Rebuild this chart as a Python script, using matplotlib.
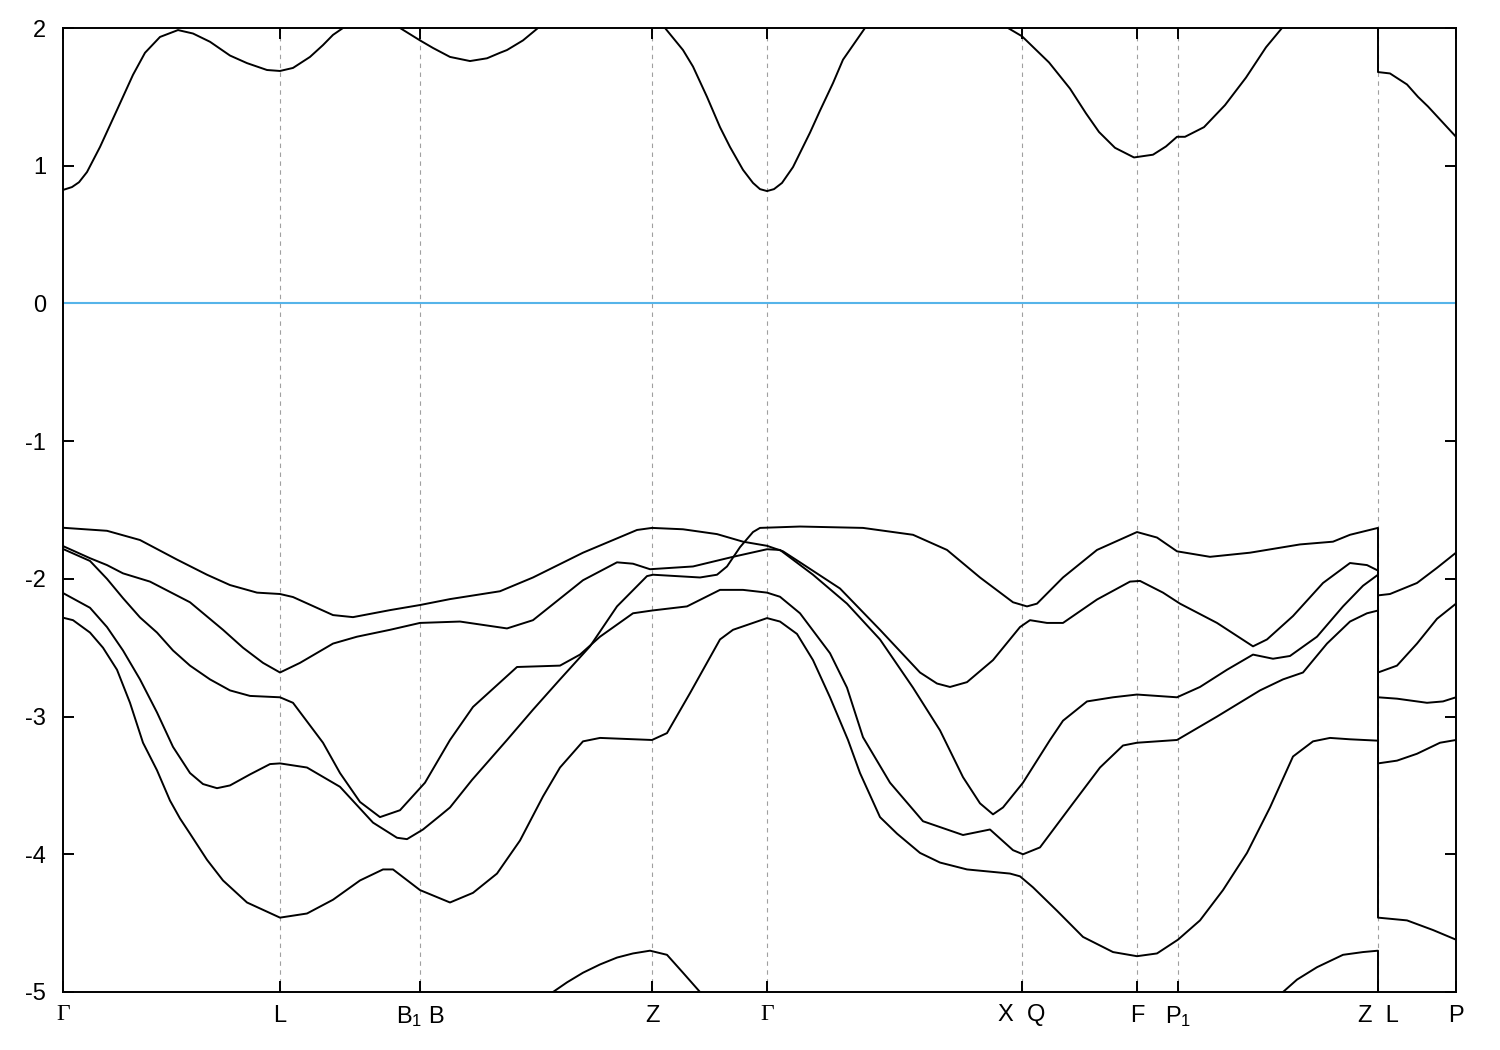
import numpy as np
import matplotlib
matplotlib.use('Agg')
from matplotlib import pyplot as plt

plt.rcParams['font.family'] = ['Liberation Sans', 'DejaVu Sans']
plt.rcParams['mathtext.fontset'] = 'custom'
plt.rcParams['mathtext.rm'] = 'Liberation Sans'
plt.rcParams['mathtext.it'] = 'Liberation Sans'
plt.rcParams['axes.unicode_minus'] = False

nan = np.nan

# high symmetry points along the path
k_ticks = [0.0, 2.17, 3.57, 5.89, 7.04, 9.59, 10.74, 11.15, 13.15, 13.93]
k_labels = ['Γ', 'L', 'B$_1$ B', 'Z', 'Γ', 'X  Q', 'F', 'P$_1$', 'Z  L', 'P']

# conduction band (nan = outside the window)
k_cb = [0, 0.09, 0.16, 0.24, 0.37, 0.54, 0.70, 0.82, 0.97, 1.15, 1.30, 1.47, 1.67, 1.84, 2.04, 2.17, 2.30, 2.47, 2.60, 2.70, 2.80, nan,
        3.37, 3.57, 3.70, 3.87, 4.07, 4.24, 4.37, 4.44, 4.60, 4.75, nan,
        6.02, 6.20, 6.30, 6.44, 6.57, 6.67, 6.80, 6.90, 6.97, 7.04, 7.11, 7.19, 7.30, 7.47, 7.57, 7.70, 7.80, 8.02, nan,
        9.45, 9.59, 9.86, 10.07, 10.23, 10.36, 10.52, 10.71, 10.90, 11.03, 11.14, 11.22, 11.41, 11.62, 11.83, 12.03, 12.19, nan,
        13.15, 13.15, 13.27, 13.44, 13.55, 13.65, 13.93]
e_cb = [0.824, 0.845, 0.88, 0.954, 1.136, 1.405, 1.66, 1.82, 1.935, 1.985, 1.96, 1.90, 1.80, 1.745, 1.695, 1.688, 1.71, 1.79, 1.876, 1.95, 2.0, nan,
        2.0, 1.91, 1.855, 1.79, 1.76, 1.78, 1.82, 1.84, 1.91, 2.0, nan,
        2.0, 1.84, 1.72, 1.50, 1.28, 1.136, 0.97, 0.875, 0.83, 0.816, 0.83, 0.875, 0.99, 1.24, 1.40, 1.60, 1.77, 2.0, nan,
        2.0, 1.94, 1.75, 1.56, 1.38, 1.245, 1.13, 1.06, 1.08, 1.14, 1.21, 1.21, 1.28, 1.44, 1.64, 1.86, 2.0, nan,
        2.0, 1.68, 1.67, 1.59, 1.50, 1.43, 1.21]

# valence bands
k_a = [0, 0.44, 0.77, 1.14, 1.44, 1.67, 1.94, 2.17, 2.30, 2.70, 2.90, 3.27, 3.57, 3.87, 4.37, 4.70, 5.20, 5.74, 5.89,
       6.20, 6.54, 6.80, 7.04, 7.20, 7.37, 7.77, 8.17, 8.57, 8.74, 8.87, 9.04, 9.30, 9.57, 9.67, 9.84, 10.00, 10.34,
       10.67, 10.77, 11.00, 11.17, 11.54, 11.90, 12.04, 12.30, 12.60, 12.87, 13.04, 13.15, 13.15, 13.34, 13.54, 13.74, 13.93]
e_a = [-1.629, -1.651, -1.718, -1.86, -1.97, -2.045, -2.10, -2.11, -2.132, -2.263, -2.278, -2.227, -2.19, -2.147, -2.09,
       -1.99, -1.81, -1.645, -1.63, -1.64, -1.675, -1.73, -1.76, -1.80, -1.88, -2.07, -2.37, -2.68, -2.76, -2.785, -2.75,
       -2.59, -2.35, -2.30, -2.32, -2.32, -2.15, -2.02, -2.015, -2.10, -2.18, -2.32, -2.49, -2.44, -2.27, -2.03, -1.885,
       -1.90, -1.94, -2.68, -2.63, -2.47, -2.29, -2.18]

k_b = [0, 0.27, 0.44, 0.60, 0.87, 1.27, 1.60, 1.80, 2.00, 2.17, 2.37, 2.70, 2.94, 3.27, 3.57, 3.97, 4.44, 4.70, 5.20,
       5.54, 5.70, 5.87, 6.30, 6.70, 7.04, 7.17, 7.50, 7.84, 8.17, 8.50, 8.77, 9.00, 9.17, 9.30, 9.40, 9.60, 9.87, 10.00,
       10.24, 10.50, 10.74, 10.94, 11.14, 11.37, 11.64, 11.90, 12.10, 12.27, 12.54, 12.80, 13.00, 13.15, 13.15, 13.34,
       13.64, 13.80, 13.93]
e_b = [-1.762, -1.85, -1.90, -1.96, -2.02, -2.17, -2.37, -2.50, -2.61, -2.68, -2.61, -2.47, -2.42, -2.37, -2.32, -2.31,
       -2.36, -2.30, -2.01, -1.88, -1.89, -1.93, -1.91, -1.84, -1.785, -1.79, -1.97, -2.18, -2.44, -2.79, -3.10, -3.44,
       -3.63, -3.71, -3.66, -3.48, -3.17, -3.03, -2.89, -2.86, -2.84, -2.85, -2.86, -2.785, -2.66, -2.55, -2.58, -2.56,
       -2.42, -2.20, -2.05, -1.97, -2.86, -2.87, -2.90, -2.89, -2.86]

k_c = [0, 0.27, 0.44, 0.60, 0.77, 0.94, 1.10, 1.27, 1.47, 1.67, 1.87, 2.17, 2.30, 2.60, 2.77, 2.97, 3.17, 3.37, 3.62,
       3.87, 4.10, 4.54, 4.97, 5.17, 5.37, 5.70, 5.89, 6.24, 6.57, 6.80, 7.04, 7.17, 7.37, 7.67, 7.84, 8.00, 8.27, 8.60,
       9.00, 9.27, 9.50, 9.60, 9.77, 10.10, 10.37, 10.60, 10.74, 11.14, 11.54, 11.97, 12.20, 12.40, 12.64, 12.87, 13.04,
       13.15, 13.15, 13.34, 13.54, 13.77, 13.93]
e_c = [-1.783, -1.87, -2.00, -2.14, -2.28, -2.39, -2.52, -2.63, -2.73, -2.81, -2.85, -2.86, -2.90, -3.19, -3.41, -3.62,
       -3.73, -3.68, -3.48, -3.17, -2.93, -2.64, -2.63, -2.55, -2.42, -2.25, -2.23, -2.20, -2.08, -2.08, -2.10, -2.13,
       -2.25, -2.54, -2.79, -3.15, -3.48, -3.76, -3.86, -3.82, -3.97, -4.00, -3.95, -3.63, -3.37, -3.21, -3.19, -3.17,
       -3.00, -2.81, -2.73, -2.68, -2.47, -2.31, -2.25, -2.23, -3.34, -3.32, -3.27, -3.19, -3.17]

k_d = [0, 0.27, 0.44, 0.60, 0.77, 0.94, 1.10, 1.27, 1.40, 1.54, 1.67, 1.87, 2.07, 2.17, 2.44, 2.77, 3.10, 3.34, 3.44,
       3.60, 3.77, 3.87, 4.09, 4.44, 4.70, 4.97, 5.27, 5.54, 5.84, 5.90, 6.37, 6.54, 6.64, 6.77, 6.90, 6.97, 7.37, 8.00,
       8.50, 8.84, 9.17, 9.50, 9.64, 9.74, 10.00, 10.34, 10.74, 10.94, 11.14, 11.47, 11.87, 12.37, 12.70, 12.87, 13.15,
       13.15, 13.27, 13.54, 13.74, 13.93]
e_d = [-2.103, -2.21, -2.35, -2.52, -2.73, -2.97, -3.22, -3.41, -3.49, -3.52, -3.50, -3.42, -3.345, -3.34, -3.37, -3.51,
       -3.77, -3.88, -3.89, -3.82, -3.72, -3.66, -3.46, -3.17, -2.95, -2.73, -2.49, -2.20, -1.98, -1.97, -1.99, -1.97,
       -1.91, -1.77, -1.66, -1.63, -1.62, -1.63, -1.68, -1.79, -1.99, -2.17, -2.20, -2.18, -1.99, -1.79, -1.66, -1.70,
       -1.80, -1.84, -1.81, -1.75, -1.73, -1.68, -1.63, -2.12, -2.11, -2.03, -1.92, -1.81]

k_e = [0, 0.10, 0.27, 0.40, 0.54, 0.67, 0.80, 0.94, 1.07, 1.17, 1.27, 1.44, 1.60, 1.84, 2.17, 2.44, 2.70, 2.97, 3.20,
       3.30, 3.57, 3.87, 4.10, 4.34, 4.57, 4.80, 4.97, 5.20, 5.37, 5.89, 6.04, 6.27, 6.57, 6.70, 7.04, 7.17, 7.34, 7.50,
       7.67, 7.85, 7.97, 8.17, 8.34, 8.57, 8.77, 9.04, 9.47, 9.57, 9.70, 9.94, 10.20, 10.50, 10.74, 10.94, 11.15, 11.37,
       11.60, 11.84, 12.07, 12.30, 12.50, 12.67, 12.87, 13.15, 13.15, 13.44, 13.70, 13.93]
e_e = [-2.282, -2.30, -2.39, -2.50, -2.66, -2.90, -3.19, -3.39, -3.61, -3.74, -3.85, -4.04, -4.19, -4.35, -4.46, -4.43,
       -4.33, -4.19, -4.11, -4.11, -4.26, -4.35, -4.28, -4.14, -3.90, -3.58, -3.37, -3.18, -3.155, -3.17, -3.12, -2.83,
       -2.44, -2.37, -2.285, -2.31, -2.40, -2.59, -2.86, -3.17, -3.41, -3.73, -3.85, -3.99, -4.06, -4.11, -4.14, -4.16,
       -4.24, -4.41, -4.60, -4.71, -4.74, -4.72, -4.62, -4.48, -4.26, -3.99, -3.66, -3.29, -3.18, -3.155, -3.165, -3.175,
       -4.46, -4.48, -4.55, -4.62]

k_f = [4.90, 5.04, 5.20, 5.37, 5.54, 5.70, 5.87, 6.04, 6.20, 6.37, nan,
       12.20, 12.34, 12.54, 12.80, 13.00, 13.15, 13.15]
e_f = [-5.0, -4.93, -4.86, -4.80, -4.75, -4.72, -4.70, -4.73, -4.86, -5.0, nan,
       -5.0, -4.91, -4.82, -4.73, -4.71, -4.70, -5.0]

bands = [(k_cb, e_cb), (k_a, e_a), (k_b, e_b), (k_c, e_c), (k_d, e_d), (k_e, e_e), (k_f, e_f)]

fig = plt.figure(figsize=(15, 10.5), dpi=100)
ax = fig.add_axes([63 / 1500, 1 - 992 / 1050, (1456 - 63) / 1500, (992 - 28) / 1050])

for kt in k_ticks[1:-1]:
    ax.axvline(kt, color='#a0a0a0', lw=0.8, ls=(0, (4, 4)), zorder=1)

ax.axhline(0, color='#56b4e9', lw=1.5, zorder=2)

for k, e in bands:
    ax.plot(k, e, color='black', lw=1.4, zorder=3, solid_joinstyle='round')

ax.set_xlim(k_ticks[0], k_ticks[-1])
ax.set_ylim(-5, 2)
ax.set_yticks(range(-5, 3))
ax.set_xticks(k_ticks)
ax.set_xticklabels(k_labels)
for lab in ax.get_xticklabels():
    if lab.get_text() == 'Γ':
        lab.set_fontfamily(['Liberation Serif', 'DejaVu Serif'])

ax.tick_params(axis='both', direction='in', length=8, width=1.4, labelsize=17,
               top=True, right=True)
ax.tick_params(axis='y', pad=12)
ax.tick_params(axis='x', pad=9)
for sp in ax.spines.values():
    sp.set_linewidth(1.4)

plt.savefig('out.png', dpi=100)
